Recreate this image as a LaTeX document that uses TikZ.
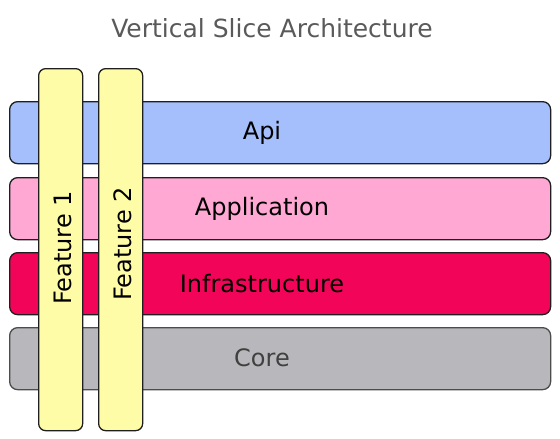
\documentclass[tikz,border=0pt]{standalone}
\usepackage{fontspec}
\setmainfont{DejaVu Sans}
\begin{document}
\begin{tikzpicture}[x=1pt,y=-1pt,
  layer/.style={draw=black!88, line width=1.3pt, rounded corners=8pt, minimum width=541pt, minimum height=62pt, inner sep=0pt, anchor=north west},
  feat/.style={draw=black!88, fill=featyellow, line width=1.3pt, rounded corners=7pt, minimum width=44pt, minimum height=362pt, inner sep=0pt, anchor=north west},
  lbl/.style={font=\fontsize{24}{28}\selectfont, inner sep=0pt},
  ]
\definecolor{apiblue}{HTML}{A5BFFC}
\definecolor{apppink}{HTML}{FFA8D4}
\definecolor{infrared}{HTML}{F20558}
\definecolor{coregray}{HTML}{B8B8BC}
\definecolor{featyellow}{HTML}{FFFCA8}
\definecolor{titlegray}{HTML}{5A5A5A}
\useasboundingbox (0,0) rectangle (560,439);
\node[font=\fontsize{25}{30}\selectfont, text=titlegray, inner sep=0pt] (title) at (272,28) {Vertical Slice Architecture};
\node[layer, fill=apiblue] (api) at (9,101) {};
\node[layer, fill=apppink] (app) at (9,177) {};
\node[layer, fill=infrared] (infra) at (9,252) {};
\node[layer, fill=coregray, draw=black!70] (core) at (9,327) {};
\node[lbl] (apil) at (262,133) {Api};
\node[lbl] (appl) at (262,209) {Application};
\node[lbl] (infral) at (262,284) {Infrastructure};
\node[lbl, text=black!75] (corel) at (262,358) {Core};
\node[feat] (f1) at (38,68) {};
\node[feat] (f2) at (98,68) {};
\node[lbl, rotate=90] (f1l) at (63,248) {Feature 1};
\node[lbl, rotate=90] (f2l) at (123,244) {Feature 2};
\end{tikzpicture}
\end{document}
